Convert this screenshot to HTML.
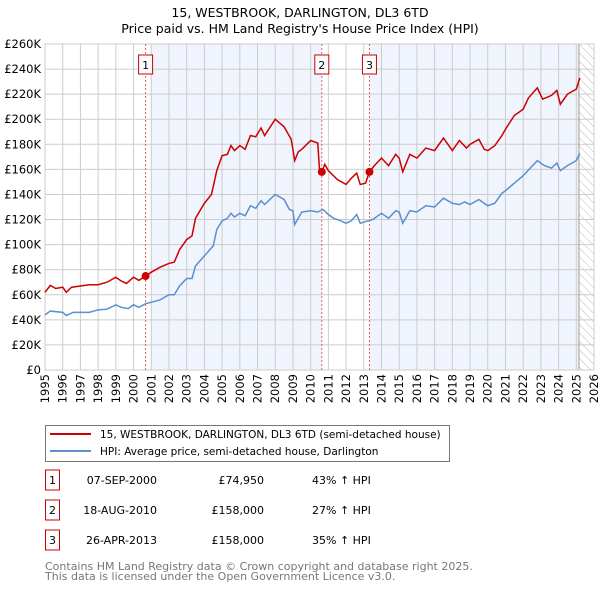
<!DOCTYPE html>
<html><head><meta charset="utf-8"><style>
body{margin:0;background:#fff;font-family:"Liberation Sans","DejaVu Sans",sans-serif;}
svg text{font-family:"DejaVu Sans","Liberation Sans",sans-serif;}
</style></head><body>
<svg id="chart" width="600" height="590" xmlns="http://www.w3.org/2000/svg">
<defs><pattern id="hatch" width="6" height="6" patternUnits="userSpaceOnUse" patternTransform="rotate(-45)"><line x1="0" y1="0" x2="0" y2="6" stroke="#bbb" stroke-width="1"/></pattern></defs>
<text x="300" y="17" text-anchor="middle" font-size="12.5">15, WESTBROOK, DARLINGTON, DL3 6TD</text>
<text x="300" y="33" text-anchor="middle" font-size="12.5">Price paid vs. HM Land Registry's House Price Index (HPI)</text>
<g id="plot"></g>
<rect x="45.5" y="425.5" width="404" height="36" fill="#fff" stroke="#777"/>
<line x1="50" y1="434" x2="91" y2="434" stroke="#cc0000" stroke-width="2"/>
<text x="100" y="438" font-size="10.5">15, WESTBROOK, DARLINGTON, DL3 6TD (semi-detached house)</text>
<line x1="50" y1="451" x2="91" y2="451" stroke="#5b8fd0" stroke-width="2"/>
<text x="100" y="455" font-size="10.5">HPI: Average price, semi-detached house, Darlington</text>
<g id="table"></g>
<text x="45" y="570" font-size="11" fill="#777">Contains HM Land Registry data © Crown copyright and database right 2025.</text>
<text x="45" y="580" font-size="11" fill="#777">This data is licensed under the Open Government Licence v3.0.</text>
</svg>
<script>
const yTicks=[0,20,40,60,80,100,120,140,160,180,200,220,240,260];
const xYears=[1995,1996,1997,1998,1999,2000,2001,2002,2003,2004,2005,2006,2007,2008,2009,2010,2011,2012,2013,2014,2015,2016,2017,2018,2019,2020,2021,2022,2023,2024,2025,2026];
const hpiT=[1995,1995.3,1996,1996.2,1996.6,1997.5,1998,1998.5,1999,1999.3,1999.7,2000,2000.3,2000.7,2001,2001.5,2002,2002.3,2002.6,2003,2003.3,2003.5,2004,2004.5,2004.7,2005,2005.3,2005.5,2005.7,2006,2006.3,2006.6,2006.9,2007.2,2007.4,2008,2008.5,2008.8,2009,2009.1,2009.3,2009.5,2010,2010.4,2010.7,2011,2011.3,2011.7,2012,2012.3,2012.6,2012.8,2013,2013.5,2014,2014.4,2014.8,2015,2015.2,2015.6,2016,2016.5,2017,2017.5,2018,2018.4,2018.7,2019,2019.5,2020,2020.4,2020.8,2021,2021.5,2022,2022.4,2022.8,2023.2,2023.6,2023.9,2024.1,2024.5,2025,2025.2];
const hpiV=[44,47,46,43.5,46,46,48,48.5,52,50,49,52,50,53,54,56,60,60,67,73,73,83,91,99,112,119,121,125,122,125,123,131,129,135,132,140,136,128,127,116,121,126,127,126,128,124,121,119,117,119,124,117,118,120,125,121,127,126,117,127,126,131,130,137,133,132,134,132,136,131,133,141,143,149,155,161,167,163,161,165,159,163,167,173];
const propT=[1995,1995.3,1995.6,1996,1996.2,1996.5,1997,1997.5,1998,1998.5,1999,1999.3,1999.6,2000,2000.3,2000.68,2001,2001.5,2002,2002.3,2002.6,2003,2003.3,2003.5,2004,2004.4,2004.7,2005,2005.3,2005.5,2005.7,2006,2006.3,2006.6,2006.9,2007.2,2007.4,2008,2008.5,2008.9,2009,2009.1,2009.3,2009.5,2010,2010.4,2010.5,2010.63,2010.8,2011,2011.5,2012,2012.3,2012.6,2012.8,2013.1,2013.32,2013.6,2014,2014.4,2014.8,2015,2015.2,2015.6,2016,2016.5,2017,2017.5,2018,2018.4,2018.8,2019,2019.5,2019.8,2020,2020.4,2020.8,2021,2021.5,2022,2022.3,2022.8,2023.1,2023.6,2023.9,2024.1,2024.5,2025,2025.2];
const propV=[62,67.5,65,66,62,66,67,68,68,70,74,71,69,74,71.5,75,78,82,85,86,96,104,107,121,133,140,159,171,172,179,175,179,176,187,186,193,187,200,194,184,176,167,174,176,183,181,160,158,164,159,152,148,153,157,148,149,158,163,169,163,172,169,158,172,169,177,175,185,175,183,177,180,184,176,175,179,187,192,203,208,217,225,216,219,223,212,220,224,233];
const saleT=[2000.68,2010.63,2013.32];
const saleV=[74.95,158,158];
const saleLabels=["1","2","3"];
const saleDates=["07-SEP-2000","18-AUG-2010","26-APR-2013"];
const salePrices=["£74,950","£158,000","£158,000"];
const saleHpi=["43% ↑ HPI","27% ↑ HPI","35% ↑ HPI"];
const X0=45,X1=594,Y0=370,Y1=44;
const xs=t=>X0+(t-1995)/31*(X1-X0);
const ys=v=>Y0-v/260*(Y0-Y1);
const NS="http://www.w3.org/2000/svg";
function mk(tag,attrs,parent,txt){const e=document.createElementNS(NS,tag);for(const k in attrs)e.setAttribute(k,attrs[k]);if(txt!==undefined)e.textContent=txt;parent.appendChild(e);return e;}
const g=document.getElementById('plot');
const bg=mk('rect',{x:X0,y:Y1,width:X1-X0,height:Y0-Y1,fill:'#fff'},g);


const sh1=mk('rect',{x:xs(2001),y:Y1,width:xs(saleT[1])-xs(2001),height:Y0-Y1,fill:'#f0f4fc'},g);


const sh2=mk('rect',{x:xs(saleT[2]),y:Y1,width:xs(2025.15)-xs(saleT[2]),height:Y0-Y1,fill:'#f0f4fc'},g);


const ht=mk('rect',{x:xs(2025.15),y:Y1,width:X1-xs(2025.15),height:Y0-Y1,fill:'url(#hatch)'},g);


yTicks.forEach(v=>{
  mk('line',{x1:X0,x2:X1,y1:ys(v),y2:ys(v),stroke:'#ccc','stroke-width':1},g);
  const t=mk('text',{x:X0-4,y:ys(v)+4,'text-anchor':'end','font-size':11.5},g,'£'+(v===0?'0':v+'K'));
  
  
});
xYears.forEach(yr=>{
  mk('line',{x1:xs(yr),x2:xs(yr),y1:Y1,y2:Y0,stroke:'#ccc','stroke-width':1},g);
  const t=mk('text',{x:0,y:0,'text-anchor':'end','font-size':11.5,transform:`translate(${xs(yr)+4},${Y0+4}) rotate(-90)`},g,String(yr));
  
  
});
mk('line',{x1:xs(2025.15),x2:xs(2025.15),y1:Y1,y2:Y0,stroke:'#999','stroke-width':1},g);
mk('rect',{x:X0,y:Y1,width:X1-X0,height:Y0-Y1,fill:'none',stroke:'#ccc'},g);
saleT.forEach((t,i)=>{
  const l=mk('line',{x1:xs(t),x2:xs(t),y1:Y1,y2:Y0,stroke:'#e06060','stroke-width':1,'stroke-dasharray':'2,2'},g);
  
  
});
const hp=mk('polyline',{points:hpiT.map((t,i)=>xs(t)+','+ys(hpiV[i])).join(' '),fill:'none',stroke:'#5b8fd0','stroke-width':1.5},g);


const pp=mk('polyline',{points:propT.map((t,i)=>xs(t)+','+ys(propV[i])).join(' '),fill:'none',stroke:'#cc0000','stroke-width':1.5},g);


saleT.forEach((t,i)=>{
  const c=mk('circle',{cx:xs(t),cy:ys(saleV[i]),r:4,fill:'#cc0000'},g);
  
  
  const b=mk('rect',{x:xs(t)-7,y:55,width:14,height:19,fill:'#fff',stroke:'#cc0000'},g);
  
  
  mk('text',{x:xs(t),y:69,'text-anchor':'middle','font-size':11},g,saleLabels[i]);
});
const tb=document.getElementById('table');
saleT.forEach((t,i)=>{
  const y=483+i*30;
  const b=mk('rect',{x:45.5,y:y-13,width:14,height:20,fill:'#fff',stroke:'#cc0000'},tb);
  
  
  mk('text',{x:52.5,y:y+1,'text-anchor':'middle','font-size':11},tb,saleLabels[i]);
  const d=mk('text',{x:157,y:y+1,'text-anchor':'end','font-size':11},tb,saleDates[i]);
  
  
  const p=mk('text',{x:264,y:y+1,'text-anchor':'end','font-size':11},tb,salePrices[i]);
  
  
  const h=mk('text',{x:312,y:y+1,'font-size':11},tb,saleHpi[i]);
  
  
});
</script>
</body></html>
